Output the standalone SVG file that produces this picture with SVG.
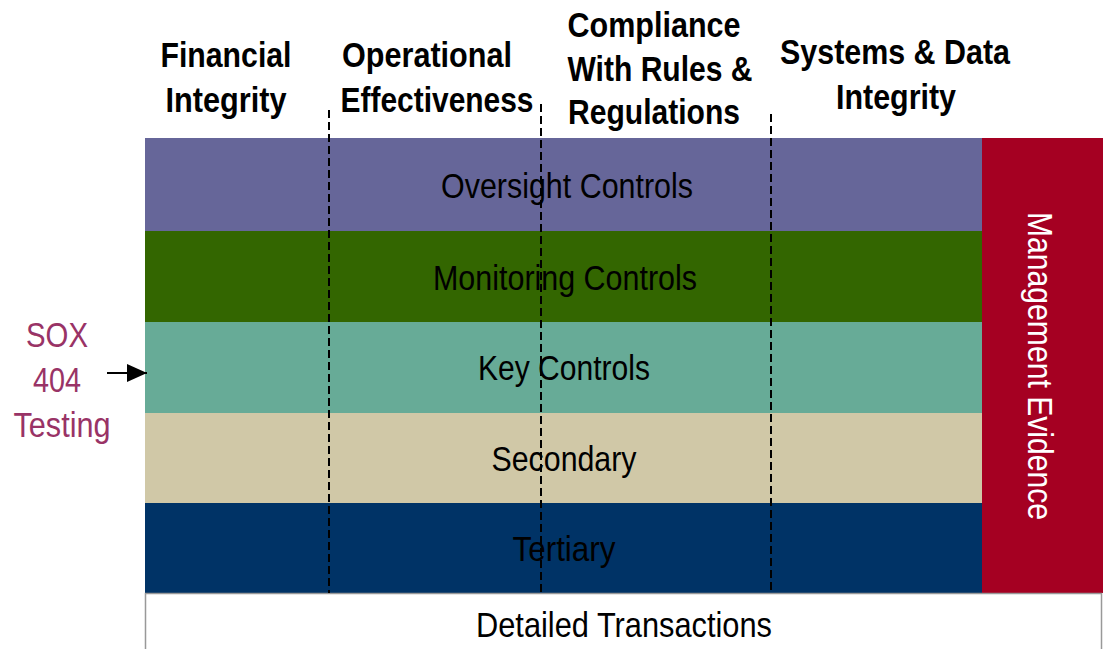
<svg xmlns="http://www.w3.org/2000/svg" width="1103" height="649" viewBox="0 0 1103 649">
<style>
text{font-family:"Liberation Sans",Arial,sans-serif;}
.hdr{font-size:35px;font-weight:bold;fill:#000;text-anchor:middle;}
.band{font-size:35px;fill:#000;text-anchor:middle;}
.sox{font-size:35px;fill:#993366;text-anchor:middle;}
.div{stroke:#000;stroke-width:2;stroke-dasharray:8 4;fill:none;}
</style>
<defs>
<marker id="arr" markerWidth="20" markerHeight="18" refX="20" refY="9" orient="auto" markerUnits="userSpaceOnUse" viewBox="0 0 20 18">
<path d="M0,0 L20,9 L0,18 z" fill="#000"/>
</marker>
</defs>
<rect width="1103" height="649" fill="#fff"/>

<g id="headers">
<g id="h-financial">
<text class="hdr" x="226" y="67" textLength="131" lengthAdjust="spacingAndGlyphs">Financial</text>
<text class="hdr" x="226" y="112" textLength="121" lengthAdjust="spacingAndGlyphs">Integrity</text>
</g>
<g id="h-operational">
<text class="hdr" x="427" y="67" textLength="170" lengthAdjust="spacingAndGlyphs">Operational</text>
<text class="hdr" x="437" y="112" textLength="193" lengthAdjust="spacingAndGlyphs">Effectiveness</text>
</g>
<g id="h-compliance">
<text class="hdr" x="654" y="37" textLength="173" lengthAdjust="spacingAndGlyphs">Compliance</text>
<text class="hdr" x="660" y="81" textLength="185" lengthAdjust="spacingAndGlyphs">With Rules &amp;</text>
<text class="hdr" x="654" y="124" textLength="172" lengthAdjust="spacingAndGlyphs">Regulations</text>
</g>
<g id="h-systems">
<text class="hdr" x="895" y="64" textLength="230" lengthAdjust="spacingAndGlyphs">Systems &amp; Data</text>
<text class="hdr" x="896" y="109" textLength="120" lengthAdjust="spacingAndGlyphs">Integrity</text>
</g>
</g>

<g id="oversight">
<rect x="145" y="138" width="837" height="93" fill="#666699"/>
<text class="band" x="567" y="198" textLength="252" lengthAdjust="spacingAndGlyphs">Oversight Controls</text>
</g>
<g id="monitoring">
<rect x="145" y="231" width="837" height="91" fill="#336600"/>
<text class="band" x="565" y="290" textLength="264" lengthAdjust="spacingAndGlyphs">Monitoring Controls</text>
</g>
<g id="key">
<rect x="145" y="322" width="837" height="91" fill="#67AB97"/>
<text class="band" x="564" y="380" textLength="172" lengthAdjust="spacingAndGlyphs">Key Controls</text>
</g>
<g id="secondary">
<rect x="145" y="413" width="837" height="90" fill="#D0C8A7"/>
<text class="band" x="564" y="471" textLength="145" lengthAdjust="spacingAndGlyphs">Secondary</text>
</g>
<g id="tertiary">
<rect x="145" y="503" width="837" height="90" fill="#003366"/>
<text class="band" x="564" y="561" textLength="103" lengthAdjust="spacingAndGlyphs">Tertiary</text>
</g>
<g id="management">
<rect x="982" y="138" width="121" height="455" fill="#A50022"/>
<text class="band" transform="translate(1028 366) rotate(90)" x="0" y="0" style="fill:#fff" textLength="308" lengthAdjust="spacingAndGlyphs">Management Evidence</text>
</g>
<g id="detailed">
<rect x="145.5" y="593.5" width="956" height="70" fill="#fff" stroke="#999" stroke-width="1.5"/>
<text class="band" x="624" y="637" textLength="296" lengthAdjust="spacingAndGlyphs">Detailed Transactions</text>
</g>

<g id="dividers">
<line class="div" x1="329" y1="110" x2="329" y2="593"/>
<line class="div" x1="541" y1="104" x2="541" y2="593"/>
<line class="div" x1="771" y1="114" x2="771" y2="593"/>
</g>

<g id="sox">
<text class="sox" x="57" y="347" textLength="62" lengthAdjust="spacingAndGlyphs">SOX</text>
<text class="sox" x="57" y="392" textLength="48" lengthAdjust="spacingAndGlyphs">404</text>
<text class="sox" x="62" y="437" textLength="97" lengthAdjust="spacingAndGlyphs">Testing</text>
</g>

<g id="connectors">
<line x1="107" y1="373" x2="147" y2="373" stroke="#000" stroke-width="2" marker-end="url(#arr)"/>
</g>
</svg>
